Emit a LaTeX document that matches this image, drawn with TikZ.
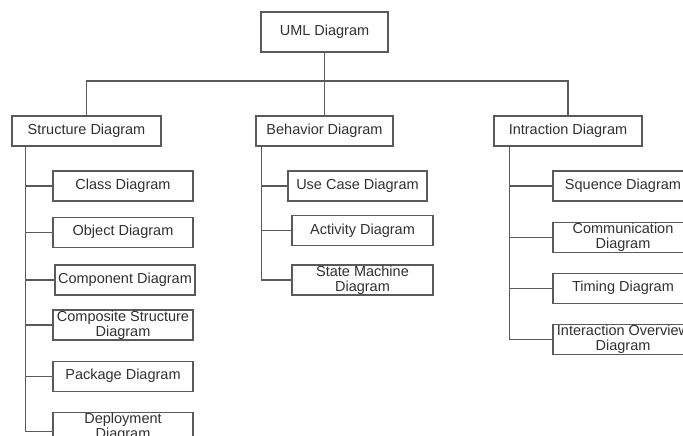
\documentclass[tikz,border=0pt]{standalone}
\usepackage{fontspec}
\setmainfont{Liberation Sans}
\usepackage{tikz}
\usetikzlibrary{positioning,calc}
\definecolor{linegray}{HTML}{5A5A5A}
\definecolor{textgray}{HTML}{303030}

\begin{document}
\begin{tikzpicture}[
  x=1pt, y=-1pt,
  box/.style={rectangle, draw=linegray, line width=1.1pt, inner sep=0pt,
    minimum height=30pt, minimum width=140pt, align=center,
    text=textgray, font=\fontsize{14.5}{15.5}\selectfont},
  link/.style={draw=linegray, line width=1.1pt}
]
  \path[use as bounding box, clip] (0,0) rectangle (683,436);
  % top level
  \node[box, minimum width=127pt, minimum height=40pt] (uml) at (324.5,32) {UML Diagram};
  \node[box, minimum width=149pt] (str) at (86.5,131) {Structure Diagram};
  \node[box, minimum width=137pt] (beh) at (324.5,131) {Behavior Diagram};
  \node[box, minimum width=148pt] (intr) at (568,131) {Intraction Diagram};
  \coordinate (bus) at (324.5,81);
  \draw[link] (str.north) |- (bus) -| (intr.north);
  \draw[link] (uml) -- (beh);
  %
  % structure diagrams
  \node[box] (cls) at (123,186) {Class Diagram};
  \node[box, below=15pt of cls] (obj) {Object Diagram};
  \node[box] (cmp) at (125,280) {Component Diagram};
  \node[box] (cst) at (123,325) {Composite Structure\\Diagram};
  \node[box, below=20pt of cst] (pkg) {Package Diagram};
  \node[box, below=20pt of pkg] (dep) {Deployment\\Diagram};
  \coordinate (strTrunk) at ([xshift=14pt]str.south west);
  \foreach \c in {cls,obj,cmp,cst,pkg}
    \draw[link] (\c.west) -- (\c.west -| strTrunk);
  \draw[link] (strTrunk) |- ([yshift=-4pt]dep.west);
  %
  % behavior diagrams
  \node[box, minimum width=139pt] (uc) at (357.5,186) {Use Case Diagram};
  \node[box, minimum width=141pt] (act) at (362.5,230.5) {Activity Diagram};
  \node[box, minimum width=141pt] (stm) at (362.5,280) {State Machine\\Diagram};
  \coordinate (behTrunk) at ([xshift=6pt]beh.south west);
  \foreach \c in {uc,act}
    \draw[link] (\c.west) -- (\c.west -| behTrunk);
  \draw[link] (behTrunk) |- (stm.west);
  %
  % interaction diagrams
  \node[box] (seq) at (623,186) {Squence Diagram};
  \node[box, below=20pt of seq] (com) {Communication\\Diagram};
  \node[box, below=20pt of com] (tim) {Timing Diagram};
  \node[box, below=20pt of tim] (iov) {Interaction Overview\\Diagram};
  \coordinate (intTrunk) at ([xshift=16pt]intr.south west);
  \foreach \c in {seq,com,tim}
    \draw[link] (\c.west) -- (\c.west -| intTrunk);
  \draw[link] (intTrunk) |- (iov.west);
\end{tikzpicture}
\end{document}
